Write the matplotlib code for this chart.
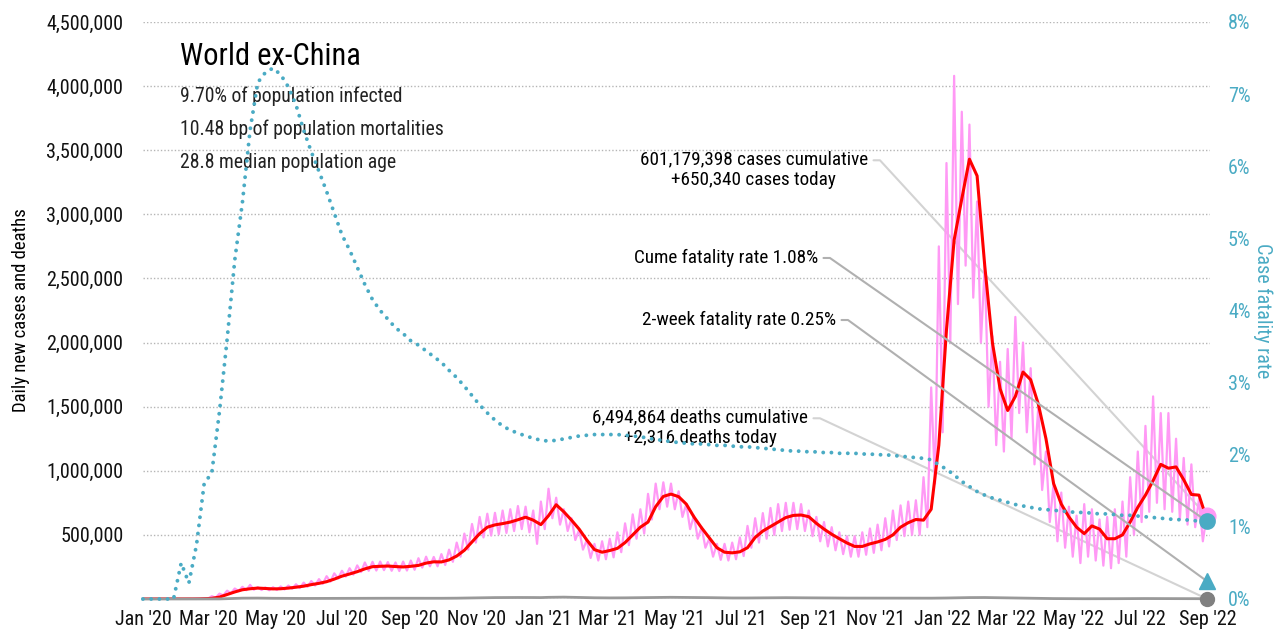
import numpy as np
import pandas as pd
import matplotlib
matplotlib.use("Agg")
import matplotlib.pyplot as plt
import matplotlib.dates as mdates
from matplotlib.ticker import FuncFormatter

plt.rcParams['font.family'] = ['Roboto Condensed', 'Liberation Sans Narrow', 'Roboto', 'DejaVu Sans']
plt.rcParams['font.stretch'] = 'condensed'

# weekly values starting 2020-01-01
# 7-day average of new cases
avg_cases = [
    0, 0, 0, 0, 0, 0, 0, 500, 2000, 5000,
    15000, 35000, 55000, 72000, 80000, 85000, 82000, 79000, 80000, 85000,
    92000, 100000, 112000, 122000, 135000, 155000, 178000, 195000, 213000, 235000,
    252000, 255000, 257000, 253000, 250000, 255000, 262000, 280000, 290000, 289000,
    305000, 335000, 380000, 445000, 510000, 560000, 578000, 588000, 600000, 618000,
    638000, 615000, 580000, 650000, 735000, 680000, 615000, 545000, 460000, 385000,
    365000, 378000, 395000, 440000, 500000, 560000, 600000, 720000, 800000, 818000,
    798000, 740000, 640000, 555000, 478000, 400000, 365000, 360000, 368000, 400000,
    480000, 530000, 565000, 600000, 635000, 652000, 655000, 642000, 590000, 545000,
    505000, 470000, 437000, 410000, 410000, 430000, 445000, 465000, 500000, 560000,
    595000, 620000, 615000, 700000, 1200000, 2100000, 2800000, 3120000, 3430000, 3300000,
    2600000, 2000000, 1640000, 1470000, 1580000, 1770000, 1710000, 1520000, 1250000, 900000,
    740000, 640000, 560000, 510000, 570000, 545000, 470000, 470000, 500000, 600000,
    715000, 810000, 923000, 1050000, 1020000, 1030000, 930000, 815000, 810000, 625000,
]
# daily new cases: weekly high and low of the daily swing
daily_hi = [
    0, 0, 0, 0, 0, 0, 0, 1000, 3000, 7000,
    22000, 42000, 65000, 82000, 95000, 110000, 92000, 90000, 92000, 98000,
    105000, 115000, 128000, 140000, 155000, 178000, 200000, 220000, 240000, 262000,
    285000, 290000, 292000, 288000, 285000, 292000, 300000, 318000, 330000, 328000,
    350000, 385000, 440000, 510000, 585000, 640000, 665000, 672000, 690000, 700000,
    725000, 720000, 690000, 760000, 860000, 790000, 700000, 630000, 540000, 460000,
    430000, 450000, 470000, 520000, 590000, 660000, 700000, 820000, 900000, 910000,
    900000, 840000, 740000, 650000, 560000, 470000, 430000, 430000, 440000, 480000,
    570000, 630000, 670000, 710000, 740000, 750000, 750000, 740000, 690000, 640000,
    600000, 560000, 520000, 490000, 490000, 520000, 550000, 580000, 630000, 690000,
    730000, 760000, 770000, 950000, 1650000, 2750000, 3400000, 4080000, 3800000, 3700000,
    3100000, 2600000, 2050000, 1850000, 1950000, 2200000, 2000000, 1800000, 1500000, 1150000,
    900000, 830000, 720000, 650000, 740000, 700000, 620000, 640000, 700000, 760000,
    950000, 1150000, 1350000, 1580000, 1450000, 1450000, 1250000, 1100000, 1050000, 780000,
]
daily_lo = [
    0, 0, 0, 0, 0, 0, 0, 0, 1000, 3000,
    10000, 28000, 45000, 62000, 68000, 72000, 70000, 68000, 70000, 74000,
    80000, 85000, 95000, 105000, 118000, 135000, 160000, 175000, 190000, 210000,
    220000, 222000, 225000, 220000, 218000, 222000, 228000, 245000, 255000, 255000,
    265000, 290000, 330000, 385000, 440000, 480000, 495000, 505000, 515000, 530000,
    545000, 520000, 430000, 545000, 630000, 580000, 530000, 460000, 385000, 320000,
    300000, 310000, 325000, 365000, 420000, 470000, 510000, 620000, 700000, 720000,
    700000, 640000, 545000, 470000, 400000, 330000, 305000, 300000, 310000, 335000,
    400000, 440000, 470000, 500000, 530000, 540000, 545000, 530000, 490000, 450000,
    410000, 380000, 350000, 330000, 330000, 345000, 360000, 380000, 410000, 460000,
    490000, 500000, 500000, 560000, 900000, 1300000, 2000000, 2300000, 2600000, 2350000,
    2000000, 1500000, 1200000, 1150000, 1250000, 1450000, 1300000, 1050000, 850000, 600000,
    450000, 400000, 330000, 280000, 330000, 300000, 260000, 240000, 280000, 330000,
    500000, 600000, 680000, 750000, 700000, 680000, 620000, 580000, 560000, 450000,
]
# 7-day average of new deaths
avg_deaths = [
    0, 0, 0, 0, 0, 0, 0, 10, 50, 200,
    700, 2500, 5000, 6500, 7000, 7000, 6000, 5500, 5000, 4500,
    4200, 4300, 4500, 4600, 4800, 5000, 5200, 5500, 5800, 5900,
    6000, 5900, 5800, 5700, 5600, 5500, 5400, 5400, 5500, 5700,
    6000, 6500, 7500, 8500, 9500, 10500, 11000, 11000, 11500, 11800,
    12000, 11500, 11000, 13000, 14000, 14500, 13500, 12000, 10500, 9500,
    8800, 8500, 8600, 9000, 9800, 10500, 11500, 12500, 13000, 13200,
    12800, 12000, 11500, 11000, 10500, 9500, 8500, 8000, 7800, 8000,
    8500, 9000, 9500, 10000, 10200, 10000, 9500, 9000, 8500, 8000,
    7500, 7300, 7200, 7100, 7000, 7000, 7100, 7000, 6900, 6700,
    6500, 6300, 6200, 6500, 7000, 7800, 9000, 10000, 11000, 11500,
    11500, 10500, 9500, 8000, 7000, 6000, 5000, 4200, 3800, 3300,
    2800, 2500, 2300, 2100, 2000, 2000, 2200, 2400, 2800, 3000,
    3300, 3500, 3500, 3400, 3200, 2900, 2600, 2400, 2300, 2316,
]
# case fatality rate, %
cfr = [
    0, 0, 0, 0, 0, 0.5, 0.22, 0.75, 1.6, 1.75,
    2.6, 3.6, 4.7, 5.5, 6.5, 7.16, 7.3, 7.36, 7.27, 7.1,
    6.85, 6.5, 6.2, 5.93, 5.65, 5.35, 5.05, 4.84, 4.6, 4.36,
    4.15, 4.0, 3.88, 3.76, 3.68, 3.58, 3.52, 3.44, 3.36, 3.28,
    3.17, 3.07, 2.95, 2.82, 2.69, 2.58, 2.48, 2.4, 2.34, 2.3,
    2.26, 2.23, 2.2, 2.19, 2.2, 2.22, 2.24, 2.26, 2.27, 2.28,
    2.28, 2.28, 2.28, 2.27, 2.26, 2.25, 2.23, 2.21, 2.2, 2.18,
    2.17, 2.16, 2.15, 2.15, 2.14, 2.13, 2.13, 2.12, 2.11, 2.11,
    2.1, 2.09, 2.08, 2.07, 2.06, 2.05, 2.05, 2.04, 2.04, 2.03,
    2.03, 2.02, 2.02, 2.02, 2.01, 2.01, 2.0, 2.0, 1.99, 1.98,
    1.97, 1.96, 1.95, 1.93, 1.86, 1.8, 1.72, 1.63, 1.56, 1.49,
    1.44, 1.4, 1.37, 1.34, 1.31, 1.29, 1.27, 1.25, 1.24, 1.23,
    1.22, 1.21, 1.2, 1.2, 1.19, 1.18, 1.18, 1.17, 1.16, 1.16,
    1.15, 1.14, 1.13, 1.12, 1.11, 1.1, 1.1, 1.09, 1.08, 1.08,
]

cases_today = 650340
deaths_today = 2316
cume_cfr = 1.08
twoweek_cfr = 0.25

title = "World ex-China"
stats = ["9.70% of population infected",
         "10.48 bp of population mortalities",
         "28.8 median population age"]

weeks = pd.date_range("2020-01-01", periods=len(avg_cases), freq="7D")
end_date = weeks[-1]
pink_dates = pd.date_range(end=end_date, periods=2 * len(daily_hi) + 1, freq="84h")
pink_vals = np.column_stack([daily_hi, daily_lo]).ravel().tolist() + [cases_today]

cyan = "#4aabc4"
pink = "#ff99f5"

fig = plt.figure(figsize=(12.82, 6.39), dpi=100)
ax = fig.add_axes([0.1115, 0.0626, 0.8323, 0.903])
ax2 = ax.twinx()

ax.plot(pink_dates, pink_vals, color=pink, lw=1.6, zorder=2)
ax.plot(weeks, avg_cases, color="#ff0000", lw=2.2, zorder=3)
ax.plot(weeks, avg_deaths, color="#999999", lw=2.0, zorder=3, clip_on=False)
ax.plot([end_date], [cases_today], "o", color=pink, ms=12, clip_on=False, zorder=4)
ax.plot([end_date], [deaths_today], "o", color="#808080", ms=10, clip_on=False, zorder=4)

ax2.plot(weeks, cfr, color=cyan, lw=2.8, linestyle=(0, (0.01, 2.1)),
         dash_capstyle="round", clip_on=False)
ax2.plot([end_date], [cume_cfr], "o", color=cyan, ms=11, clip_on=False, zorder=5)
ax2.plot([end_date], [twoweek_cfr], "^", color=cyan, ms=11, clip_on=False, zorder=5)

ax.set_xlim(pd.Timestamp("2020-01-01"), pd.Timestamp("2022-09-03"))
ax.set_ylim(0, 4500000)
ax2.set_ylim(0, 8)
ax.set_yticks(np.arange(0, 4500001, 500000))
ax2.set_yticks(np.arange(0, 9, 1))
ax.yaxis.set_major_formatter(FuncFormatter(lambda v, p: "" if v == 0 else f"{v:,.0f}"))
ax2.yaxis.set_major_formatter(FuncFormatter(lambda v, p: f"{v:.0f}%"))
ax.xaxis.set_major_locator(mdates.MonthLocator(bymonth=[1, 3, 5, 7, 9, 11]))
ax.xaxis.set_major_formatter(mdates.DateFormatter("%b '%y"))

ax.grid(axis="y", color="#b5b5b5", linestyle=(0, (1, 1.5)), lw=1)
ax.set_axisbelow(True)
for a in (ax, ax2):
    for s in a.spines.values():
        s.set_visible(False)
ax.tick_params(axis="both", length=0, labelsize=14.5, colors="#111111")
ax.tick_params(axis="y", pad=14)
ax.tick_params(axis="x", pad=8)
ax2.tick_params(axis="y", length=0, labelsize=14.5, colors=cyan, pad=13)

ax.set_ylabel("Daily new cases and deaths", fontsize=13.5, labelpad=12)
ax2.set_ylabel("Case fatality rate", fontsize=14.5, color=cyan, rotation=270, labelpad=16)

ax.text(0.035, 0.941, title, transform=ax.transAxes, fontsize=22, va="center", ha="left")
for i, s in enumerate(stats):
    ax.text(0.035, 0.872 - 0.0575 * i, s, transform=ax.transAxes, fontsize=14.2,
            va="center", ha="left", color="#222222")

light = dict(arrowstyle="-", color="#d3d3d3", lw=1.5, shrinkB=0,
             connectionstyle="arc,angleA=0,armA=12,armB=0,rad=0")
dark = dict(arrowstyle="-", color="#b0b0b0", lw=1.5, shrinkB=0,
            connectionstyle="arc,angleA=0,armA=12,armB=0,rad=0")

ax.annotate(f"601,179,398 cases cumulative\n+{cases_today:,} cases today",
            xy=(end_date, cases_today), xytext=(0.6795, 0.7435),
            textcoords="axes fraction", ha="right", va="center", multialignment="center",
            fontsize=13.8, linespacing=1.2, arrowprops=dict(light, relpos=(1, 0.75)), zorder=1)
ax.annotate(f"6,494,864 deaths cumulative\n+{deaths_today:,} deaths today",
            xy=(end_date, deaths_today), xytext=(0.6232, 0.2964),
            textcoords="axes fraction", ha="right", va="center", multialignment="center",
            fontsize=13.8, linespacing=1.2, arrowprops=dict(light, relpos=(1, 0.75)), zorder=1)
ax2.annotate(f"Cume fatality rate {cume_cfr:.2f}%",
             xy=(end_date, cume_cfr), xytext=(0.6326, 0.591),
             textcoords="axes fraction", ha="right", va="center", fontsize=13.8,
             arrowprops=dict(dark, relpos=(1, 0.5)), zorder=1)
ax2.annotate(f"2-week fatality rate {twoweek_cfr:.2f}%",
             xy=(end_date, twoweek_cfr), xytext=(0.6495, 0.4835),
             textcoords="axes fraction", ha="right", va="center", fontsize=13.8,
             arrowprops=dict(dark, relpos=(1, 0.5)), zorder=1)

fig.savefig("out.png", dpi=100)
